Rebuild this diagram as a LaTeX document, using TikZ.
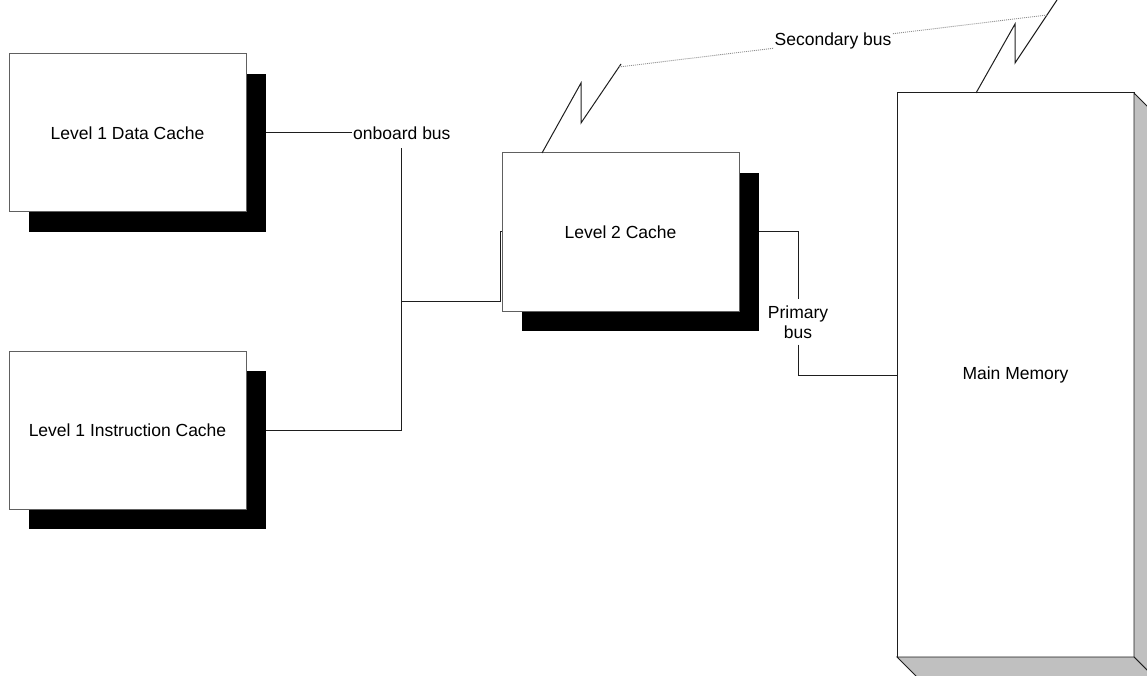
\documentclass[tikz,border=0pt]{standalone}
\usepackage{fontspec}
\setmainfont{Liberation Sans}
\usetikzlibrary{positioning, calc, shadows, backgrounds}
\definecolor{boxEdge}{RGB}{96,96,96}
\definecolor{busInk}{RGB}{30,30,30}
\definecolor{faceGray}{RGB}{192,192,192}
\definecolor{dotGray}{RGB}{140,140,140}

\begin{document}
\begin{tikzpicture}[x=1pt,y=-1pt,
  font=\fontsize{17.5}{20}\selectfont,
  C/.style={draw=boxEdge,fill=white,line width=1pt,minimum width=237pt,
            minimum height=158pt,inner sep=0pt,outer sep=0pt,
            drop shadow={shadow xshift=20pt,shadow yshift=-20pt,
                         opacity=1,fill=black}},
  bus/.style={draw=busInk,line width=1pt},
  sec/.style={draw=dotGray,line width=0.9pt,dash pattern=on 1pt off 1pt},
  lbl/.style={inner xsep=1pt,align=center}]

\useasboundingbox (0,0) rectangle (1147,676);

% caches
\node[C] (L1D) at (127.5,133) {Level 1 Data Cache};
\node[C] (L1I) at (127.5,430) {Level 1 Instruction Cache};
\node[C] (L2)  at (620.5,232) {Level 2 Cache};

% main memory, a box with depth
\node[draw=busInk,fill=white,line width=1pt,minimum width=237pt,
      minimum height=564pt,outer sep=0pt] (MM) at (1015.5,375) {Main Memory};
\begin{scope}
  \clip (0,0) rectangle (1147,676);
  \filldraw[fill=faceGray,draw=busInk,line width=0.8pt]
    (MM.north east) -- ++(24,24) -- ++(0,564) -- (MM.south east) -- cycle;
  \filldraw[fill=faceGray,draw=busInk,line width=0.8pt]
    (MM.south west) -- ++(24,24) -- ++(237,0) -- (MM.south east) -- cycle;
\end{scope}

% bus labels
\node[lbl,anchor=west,inner ysep=8pt] (OB) at (352,133) {onboard bus};
\node[lbl,inner ysep=6pt] (PB) at (798,322) {Primary\\bus};

\begin{scope}[on background layer]
  \draw[bus] (L1D.east) -- (OB.west);
  \draw[bus] (L1I.east) -| (OB.south);
  \draw[bus] (OB.south |- 0,301) -| ($(L2.west)+(-2,0)$) -- (L2.west);
  \draw[bus] (L2.east) -| (PB.north);
  \draw[bus] (PB.south) |- (MM.west);
\end{scope}

% secondary bus
\draw[bus] ($(L2.north west)+(40,0)$) -- ++(39,-70) -- ++(0,40) -- ++(40,-59);
\draw[bus] ($(MM.north west)+(79,0)$) -- ++(39,-69) -- ++(0,39) -- ++(42,-63);
\coordinate (S1) at (619,67);
\coordinate (S2) at (1047,15);
\draw[sec] (S1) -- node[fill=white,inner sep=1pt] (SB) {Secondary bus} (S2);
\end{tikzpicture}
\end{document}
